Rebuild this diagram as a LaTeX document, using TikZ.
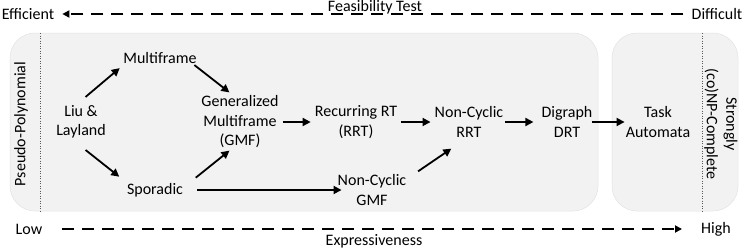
\documentclass[tikz,border=0pt]{standalone}
\usepackage{fontspec}
\setmainfont{Carlito}
\usetikzlibrary{positioning, calc, arrows.meta}
\definecolor{Panel}{HTML}{F2F2F2}
\definecolor{PanelLine}{HTML}{E3E3E3}
\definecolor{Sep}{HTML}{595959}
\tikzset{
    model/.style={align=center, font=\fontsize{16}{19.5}\selectfont, inner sep=2pt},
    axislabel/.style={font=\fontsize{16}{19.5}\selectfont, inner sep=1pt},
    arrow/.style={-{Triangle[length=8pt, width=8pt]}, line width=1.8pt, shorten <=2pt, shorten >=2pt},
    dasharrow/.style={-{Triangle[length=7pt, width=7pt]}, line width=1.8pt, dash pattern=on 12pt off 8pt},
    panel/.style={rounded corners=25pt, fill=Panel, draw=PanelLine, line width=0.5pt},
    sepline/.style={dotted, Sep, line width=0.5pt},
}

\begin{document}
\begin{tikzpicture}[x=1pt, y=-1pt]
    \useasboundingbox (0,0) rectangle (747,249);

    % Pannelli di complessita
    \draw[panel] (10,33) rectangle (598,211);
    \draw[panel] (612,33) rectangle (738,211);
    \draw[sepline] (40,33) -- (40,211);
    \draw[sepline] (702,33) -- (702,211);
    \node[axislabel, rotate=90] (pseudo) at (21,124) {Pseudo-Polynomial};
    \node[model, rotate=-90] (strong) at (721,124) {Strongly\\(co)NP-Complete};

    % Modelli di task
    \node[model] (liu) at (81,122) {Liu \&\\Layland};
    \node[model] (mf) at (160,58) {Multiframe};
    \node[model] (gmf) at (240,122) {Generalized\\Multiframe\\(GMF)};
    \node[model] (spo) at (155,190) {Sporadic};
    \node[model] (rrt) at (356,122) {Recurring RT\\(RRT)};
    \node[model] (ncrrt) at (469,122) {Non-Cyclic\\RRT};
    \node[model] (drt) at (567,122) {Digraph\\DRT};
    \node[model] (ta) at (658,122) {Task\\Automata};
    \node[model] (ncgmf) at (372,190) {Non-Cyclic\\GMF};

    % Generalizzazioni
    \draw[arrow] ([shift={(3,-5)}]liu.north) -- ([shift={(0,1)}]mf.south west);
    \draw[arrow] ([shift={(-6,-2)}]mf.south east) -- ([shift={(-9,0)}]gmf.north);
    \draw[arrow] ([shift={(3,8)}]liu.south) -- ([shift={(-4,-3)}]spo.north west);
    \draw[arrow] ([shift={(9,-2)}]spo.north east) -- ([shift={(-9,-1)}]gmf.south);
    \draw[arrow, shorten <=12pt, shorten >=-6pt] (spo.east) -- (ncgmf.west);
    \draw[arrow] ([shift={(8,0)}]ncgmf.north east) -- ([shift={(-16,8)}]ncrrt.south);
    \draw[arrow] (gmf.east) -- (rrt.west);
    \draw[arrow] (rrt.east) -- (ncrrt.west);
    \draw[arrow, shorten <=0pt, shorten >=6pt] (ncrrt.east) -- (drt.west);
    \draw[arrow, shorten <=-3pt, shorten >=-1pt] (drt.east) -- (ta.west);

    % Assi
    \node[axislabel] (eff) at (28,14) {Efficient};
    \node[axislabel] (dif) at (717,14) {Difficult};
    \node[axislabel] (feas) at (375,7) {Feasibility Test};
    \draw[dasharrow, shorten <=7pt, shorten >=7pt] (dif.west) -- (eff.east);
    \node[axislabel] (low) at (29,229) {Low};
    \node[axislabel] (high) at (716,229) {High};
    \node[axislabel] (expr) at (374,241) {Expressiveness};
    \draw[dasharrow, shorten <=19pt, shorten >=18pt] (low.east) -- (high.west);
\end{tikzpicture}
\end{document}
